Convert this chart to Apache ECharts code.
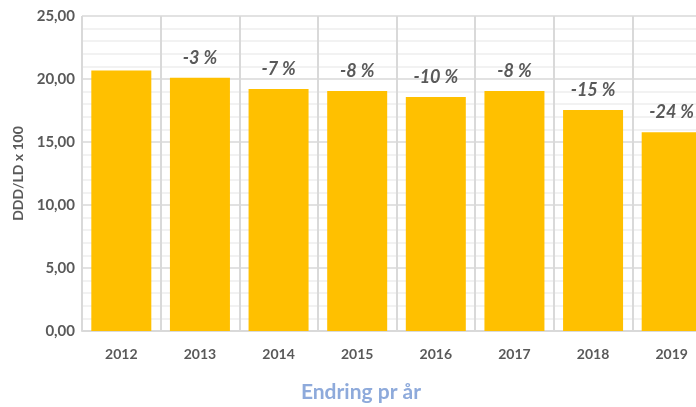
<!DOCTYPE html>
<html>
<head>
<meta charset="utf-8">
<script src="https://cdn.jsdelivr.net/npm/echarts@6/dist/echarts.min.js"></script>
<style>
html,body{margin:0;padding:0;background:#fff;}
#one{width:696px;height:407px;}
</style>
</head>
<body>
<div id="one"></div>
<script>
var years = ['2012', '2013', '2014', '2015', '2016', '2017', '2018', '2019'];
var values = [20.67, 20.10, 19.20, 19.05, 18.57, 19.05, 17.54, 15.77];
var changes = ['', '-3 %', '-7 %', '-8 %', '-10 %', '-8 %', '-15 %', '-24 %'];

var chart = echarts.init(document.getElementById('one'));
var txt = '#595959';
var option = {
    animation: false,
    grid: { left: 82, top: 16, width: 629, height: 315, outerBoundsMode: 'none', containLabel: false },
    graphic: [{
        type: 'text', x: 361, y: 392,
        style: { text: 'Endring pr år', fill: '#8eaadb', font: 'bold 21px Lato', align: 'center', verticalAlign: 'middle' }
    }],
    xAxis: {
        type: 'category',
        data: years,
        axisLine: { lineStyle: { color: '#d9d9d9', width: 2 } },
        axisTick: { show: false },
        splitLine: { show: true, lineStyle: { color: '#d9d9d9', width: 2 } },
        axisLabel: { color: txt, fontWeight: 'bold', fontSize: 14, fontFamily: 'Lato', margin: 16 }
    },
    yAxis: {
        type: 'value',
        min: 0, max: 25, interval: 5,
        name: 'DDD/LD x 100',
        nameLocation: 'middle',
        nameGap: 56,
        nameTextStyle: { color: txt, fontWeight: 'bold', fontSize: 14, fontFamily: 'Lato' },
        axisLine: { show: false },
        axisTick: { show: false },
        splitLine: { lineStyle: { color: '#d9d9d9', width: 1.5 } },
        minorTick: { show: false, splitNumber: 5 },
        minorSplitLine: { show: true, lineStyle: { color: '#eeeeee', width: 1.5 } },
        axisLabel: {
            color: txt, fontWeight: 'bold', fontSize: 15, fontFamily: 'Lato', margin: 7,
            formatter: function (v) { return v.toFixed(2).replace('.', ','); }
        }
    },
    series: [{
        type: 'bar',
        data: values,
        barWidth: 60,
        itemStyle: { color: '#ffc000' },
        label: {
            show: true, position: 'top', distance: 11,
            color: txt, fontWeight: 'bold', fontStyle: 'italic', fontSize: 18, fontFamily: 'Lato',
            formatter: function (p) { return changes[p.dataIndex]; }
        }
    }]
};
chart.setOption(option);
</script>
</body>
</html>
